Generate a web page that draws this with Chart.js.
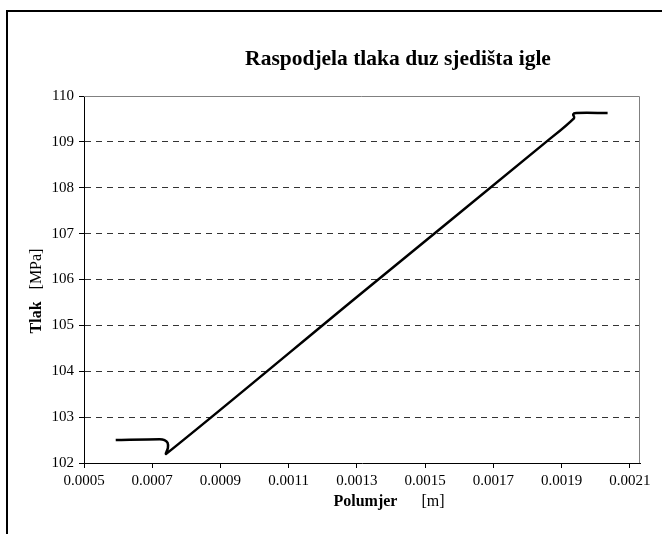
<!DOCTYPE html>
<html>
<head>
<meta charset="utf-8">
<script src="https://cdn.jsdelivr.net/npm/chart.js@4.4.1/dist/chart.umd.min.js"></script>
<style>
  html, body { margin: 0; padding: 0; background: #fff; }
  #wrap { position: relative; width: 662px; height: 534px; }
  #frame { position: absolute; left: 6px; top: 10px; right: 0; bottom: 0;
           border-left: 2px solid #000; border-top: 2px solid #000; }
  canvas { position: absolute; left: 0; top: 0; }
</style>
</head>
<body>
<div id="wrap">
  <div id="frame"></div>
  <canvas id="myChart" width="662" height="534"></canvas>
</div>
<script>
// polumjer [m] and tlak [MPa] along the needle seat
const polumjer = [0.000593, 0.000722, 0.000736, 0.000745, 0.000746, 0.000741,
                  0.0013, 0.001855, 0.001937, 0.001934, 0.001943, 0.002035];
const tlak     = [102.50, 102.52, 102.50, 102.44, 102.33, 102.20,
                  105.62, 109.00, 109.52, 109.60, 109.63, 109.63];

const xTicks = [0.0005, 0.0007, 0.0009, 0.0011, 0.0013, 0.0015, 0.0017, 0.0019, 0.0021];
const yTicks = [102, 103, 104, 105, 106, 107, 108, 109, 110];

const serif = '"Liberation Serif", "Times New Roman", serif';

// title, axis titles and the grey top/right plot edge
const decor = {
  id: 'decor',
  afterDraw(chart) {
    const c = chart.ctx, a = chart.chartArea;
    c.save();
    c.strokeStyle = '#808080';
    c.lineWidth = 1;
    c.beginPath();
    c.moveTo(a.left, a.top + 0.5);
    c.lineTo(a.right - 0.5, a.top + 0.5);
    c.lineTo(a.right - 0.5, a.bottom);
    c.stroke();

    c.fillStyle = '#000';
    c.textBaseline = 'middle';
    c.textAlign = 'center';
    c.font = 'bold 21.5px ' + serif;
    c.fillText('Raspodjela tlaka duz sjedišta igle', 398, 59);

    // x axis title
    c.textAlign = 'left';
    c.font = 'bold 16px ' + serif;
    let w1 = c.measureText('Polumjer').width;
    c.font = '16px ' + serif;
    let w2 = c.measureText('[m]').width;
    let gap = 24;
    let x0 = 389 - (w1 + gap + w2) / 2;
    c.font = 'bold 16px ' + serif;
    c.fillText('Polumjer', x0, 502);
    c.font = '16px ' + serif;
    c.fillText('[m]', x0 + w1 + gap, 502);

    // y axis title
    c.translate(37, 291);
    c.rotate(-Math.PI / 2);
    c.font = 'bold 16px ' + serif;
    w1 = c.measureText('Tlak').width;
    c.font = '16px ' + serif;
    w2 = c.measureText('[MPa]').width;
    gap = 12;
    x0 = -(w1 + gap + w2) / 2;
    c.font = 'bold 16px ' + serif;
    c.fillText('Tlak', x0, 0);
    c.font = '16px ' + serif;
    c.fillText('[MPa]', x0 + w1 + gap, 0);
    c.restore();
  }
};

const ctx = document.getElementById('myChart');

new Chart(ctx, {
  type: 'scatter',
  data: {
    datasets: [{
      data: polumjer.map((x, i) => ({ x: x, y: tlak[i] })),
      showLine: true,
      borderColor: '#000',
      borderWidth: 2.5,
      pointRadius: 0,
      tension: 0.3,
      clip: false
    }]
  },
  options: {
    responsive: false,
    animation: false,
    layout: { padding: { left: 0, top: 96, right: 22, bottom: 0 } },
    plugins: { legend: { display: false }, tooltip: { enabled: false } },
    scales: {
      x: {
        type: 'linear',
        min: 0.0005,
        max: 0.00213,
        afterBuildTicks: s => { s.ticks = xTicks.map(v => ({ value: v })); },
        afterFit: s => { s.height = 71; },
        ticks: {
          color: '#000',
          padding: 4,
          maxRotation: 0,
          autoSkip: false,
          font: { family: serif, size: 15 },
          callback: v => v.toFixed(4)
        },
        grid: { drawOnChartArea: false, tickLength: 5, tickColor: '#000' },
        border: { color: '#000', width: 1 }
      },
      y: {
        min: 102,
        max: 110,
        afterBuildTicks: s => { s.ticks = yTicks.map(v => ({ value: v })); },
        afterFit: s => { s.width = 84; },
        ticks: {
          color: '#000',
          padding: 5,
          font: { family: serif, size: 15 },
          callback: v => v
        },
        grid: {
          color: c => (c.tick && (c.tick.value === 102 || c.tick.value === 110)) ? 'rgba(0,0,0,0)' : '#333',
          tickColor: '#000',
          tickLength: 5,
          tickBorderDash: [0, 0],
          lineWidth: 1
        },
        border: { color: '#000', width: 1, dash: [6, 5] }
      }
    }
  },
  plugins: [decor]
});
</script>
</body>
</html>
